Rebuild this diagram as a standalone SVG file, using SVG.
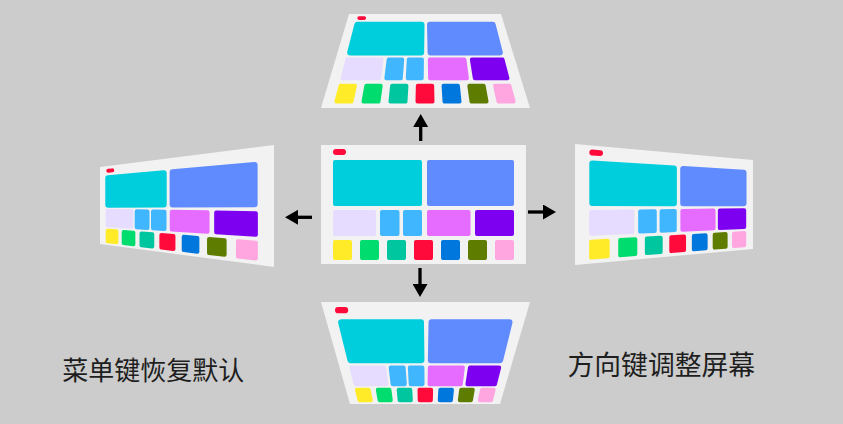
<svg xmlns="http://www.w3.org/2000/svg" width="843" height="424" viewBox="0 0 843 424">
<defs>
<style>
.bg{fill:#CCCCCC}
.pn{fill:#F2F2F2}
.s{stroke-width:4;stroke-linejoin:round}
.b{stroke-width:6;stroke-linejoin:round}
.pill{stroke:#FF0A3A;stroke-linecap:round;fill:none}
.cy{fill:#00CEDD;stroke:#00CEDD}
.bl{fill:#5F8BFF;stroke:#5F8BFF}
.lv{fill:#E6DCFF;stroke:#E6DCFF}
.sk{fill:#40B6FF;stroke:#40B6FF}
.mg{fill:#E56CFF;stroke:#E56CFF}
.pu{fill:#7E00F1;stroke:#7E00F1}
.ye{fill:#FFEB28;stroke:#FFEB28}
.gr{fill:#00DD6E;stroke:#00DD6E}
.te{fill:#00C6A0;stroke:#00C6A0}
.rd{fill:#FF0A3A;stroke:#FF0A3A}
.b2{fill:#0077DD;stroke:#0077DD}
.ol{fill:#5E7D00;stroke:#5E7D00}
.pk{fill:#FFA5E0;stroke:#FFA5E0}
.cr rect{stroke:none}
.arr{stroke:#000;stroke-width:3.3;fill:none;marker-end:url(#ah)}
.lbl{font-family:"Noto Sans CJK SC","Noto Sans",sans-serif;font-size:26px;fill:#1E1E1E;text-anchor:middle}
</style>
<marker id="ah" markerUnits="userSpaceOnUse" viewBox="0 0 13 15" markerWidth="13" markerHeight="15" refX="0" refY="7.5" orient="auto">
<path d="M0,0 L13,7.5 L0,15 Z" fill="#000"/>
</marker>
</defs>
<rect class="bg" x="0" y="0" width="843" height="424"/>

<g id="panel-center" class="cr">
<rect class="pn" x="321" y="145" width="205" height="119"/>
<rect class="rd" x="333" y="149" width="13" height="6" rx="3"/>
<rect class="cy" x="333" y="160" width="89" height="46" rx="2"/>
<rect class="bl" x="427" y="160" width="87" height="46" rx="2"/>
<rect class="lv" x="333" y="210" width="43" height="26" rx="2"/>
<rect class="sk" x="380" y="210" width="19.5" height="26" rx="2"/>
<rect class="sk" x="403" y="210" width="19" height="26" rx="2"/>
<rect class="mg" x="427" y="210" width="43.5" height="26" rx="2"/>
<rect class="pu" x="475" y="210" width="39" height="26" rx="2"/>
<rect class="ye" x="333" y="240" width="19" height="20" rx="2"/>
<rect class="gr" x="360" y="240" width="19" height="20" rx="2"/>
<rect class="te" x="387" y="240" width="19" height="20" rx="2"/>
<rect class="rd" x="414" y="240" width="19" height="20" rx="2"/>
<rect class="b2" x="441" y="240" width="19" height="20" rx="2"/>
<rect class="ol" x="468" y="240" width="19" height="20" rx="2"/>
<rect class="pk" x="495" y="240" width="19" height="20" rx="2"/>
</g>

<g id="panel-top">
<polygon class="pn" points="349,14 501,14 530,108 321,108"/>
<line class="pill" x1="359.1" y1="18.1" x2="364.3" y2="18.1" stroke-width="3.6"/>
<polygon class="cy b" points="357.33,24.79 421.52,24.79 421.15,52.43 350.18,52.43"/>
<polygon class="bl b" points="430.03,24.79 492.67,24.79 499.82,52.43 430.56,52.43"/>
<polygon class="lv s" points="347.48,59.48 381.64,59.48 378.90,78.23 342.57,78.23"/>
<polygon class="sk s" points="388.65,59.48 402.22,59.48 400.78,78.23 386.35,78.23"/>
<polygon class="sk s" points="408.80,59.48 421.93,59.48 421.74,78.23 407.77,78.23"/>
<polygon class="mg s" points="429.82,59.48 464.42,59.48 466.91,78.23 430.12,78.23"/>
<polygon class="pu s" points="471.86,59.48 502.52,59.48 507.43,78.23 474.83,78.23"/>
<polygon class="ye s" points="340.63,85.66 354.93,85.66 351.46,101.61 336.45,101.61"/>
<polygon class="gr s" points="366.37,85.66 380.67,85.66 378.47,101.61 363.47,101.61"/>
<polygon class="te s" points="392.11,85.66 406.41,85.66 405.49,101.61 390.48,101.61"/>
<polygon class="rd s" points="417.85,85.66 432.15,85.66 432.50,101.61 417.50,101.61"/>
<polygon class="b2 s" points="443.59,85.66 457.89,85.66 459.52,101.61 444.51,101.61"/>
<polygon class="ol s" points="469.33,85.66 483.63,85.66 486.53,101.61 471.53,101.61"/>
<polygon class="pk s" points="495.07,85.66 509.37,85.66 513.55,101.61 498.54,101.61"/>
</g>

<g id="panel-bottom">
<polygon class="pn" points="321,302 530,302 500,404 350,404"/>
<line class="pill" x1="338.11" y1="310.17" x2="345.09" y2="310.17" stroke-width="6.2"/>
<polygon class="cy b" points="341.10,322.29 420.97,322.29 421.45,360.13 350.44,360.13"/>
<polygon class="bl b" points="431.56,322.29 509.50,322.29 500.16,360.13 430.86,360.13"/>
<polygon class="lv s" points="351.43,367.51 383.98,367.51 386.30,384.14 355.58,384.14"/>
<polygon class="sk s" points="390.66,367.51 403.60,367.51 404.82,384.14 392.61,384.14"/>
<polygon class="sk s" points="409.86,367.51 422.38,367.51 422.54,384.14 410.73,384.14"/>
<polygon class="mg s" points="429.89,367.51 462.86,367.51 460.75,384.14 429.63,384.14"/>
<polygon class="pu s" points="469.96,367.51 499.17,367.51 495.02,384.14 467.45,384.14"/>
<polygon class="ye s" points="356.98,389.73 368.56,389.73 370.74,400.26 359.61,400.26"/>
<polygon class="gr s" points="377.82,389.73 389.40,389.73 390.78,400.26 379.65,400.26"/>
<polygon class="te s" points="398.67,389.73 410.25,389.73 410.83,400.26 399.69,400.26"/>
<polygon class="rd s" points="419.51,389.73 431.09,389.73 430.87,400.26 419.73,400.26"/>
<polygon class="b2 s" points="440.35,389.73 451.93,389.73 450.91,400.26 439.77,400.26"/>
<polygon class="ol s" points="461.20,389.73 472.78,389.73 470.95,400.26 459.82,400.26"/>
<polygon class="pk s" points="482.04,389.73 493.62,389.73 490.99,400.26 479.86,400.26"/>
</g>

<g id="panel-left">
<polygon class="pn" points="100,167 274,145 274,267 100,244"/>
<line class="pill" x1="108.26" y1="170.84" x2="112.27" y2="170.38" stroke-width="4"/>
<polygon class="cy b" points="108.26,178.15 163.72,173.15 163.72,204.57 108.26,204.75"/>
<polygon class="bl b" points="172.62,172.34 254.62,164.94 254.62,204.27 172.62,204.54"/>
<polygon class="lv s" points="107.69,210.73 131.38,211.12 131.38,226.85 107.69,225.33"/>
<polygon class="sk s" points="136.70,211.20 147.51,211.38 147.51,227.88 136.70,227.19"/>
<polygon class="sk s" points="153.00,211.47 164.51,211.66 164.51,228.98 153.00,228.24"/>
<polygon class="mg s" points="171.79,211.77 207.54,212.36 207.54,231.73 171.79,229.44"/>
<polygon class="pu s" points="216.16,212.50 255.87,213.15 255.87,234.84 216.16,232.29"/>
<polygon class="ye s" points="107.69,230.64 116.39,231.35 116.39,242.27 107.69,241.26"/>
<polygon class="gr s" points="123.71,231.95 133.35,232.73 133.35,244.25 123.71,243.12"/>
<polygon class="te s" points="141.50,233.40 152.26,234.28 152.26,246.45 141.50,245.20"/>
<polygon class="rd s" points="161.37,235.02 173.45,236.00 173.45,248.91 161.37,247.51"/>
<polygon class="b2 s" points="183.72,236.84 197.38,237.95 197.38,251.69 183.72,250.11"/>
<polygon class="ol s" points="209.03,238.90 224.61,240.17 224.61,254.86 209.03,253.05"/>
<polygon class="pk s" points="237.95,241.26 255.87,242.72 255.87,258.50 237.95,256.41"/>
</g>

<g id="panel-right">
<polygon class="pn" points="575,144 753,160 753,249 575,265"/>
<line class="pill" x1="592.29" y1="152.49" x2="600.05" y2="153.10" stroke-width="5.9"/>
<polygon class="cy b" points="592.29,163.38 673.89,168.49 673.89,203.20 592.29,203.01"/>
<polygon class="bl b" points="683.22,169.08 743.52,172.85 743.52,203.36 683.22,203.22"/>
<polygon class="lv s" points="591.16,211.94 632.35,211.48 632.35,231.94 591.16,233.78"/>
<polygon class="sk s" points="640.17,211.39 654.76,211.22 654.76,230.95 640.17,231.60"/>
<polygon class="sk s" points="661.58,211.15 674.75,211.00 674.75,230.06 661.58,230.64"/>
<polygon class="mg s" points="682.38,210.91 713.57,210.56 713.57,228.33 682.38,229.72"/>
<polygon class="pu s" points="719.84,210.49 744.19,210.21 744.19,226.97 719.84,228.05"/>
<polygon class="ye s" points="591.16,241.72 607.63,240.78 607.63,256.26 591.16,257.60"/>
<polygon class="gr s" points="620.23,240.07 635.30,239.22 635.30,254.03 620.23,255.25"/>
<polygon class="te s" points="646.85,238.57 660.68,237.78 660.68,251.98 646.85,253.10"/>
<polygon class="rd s" points="671.30,237.19 684.04,236.46 684.04,250.10 671.30,251.13"/>
<polygon class="b2 s" points="693.85,235.91 705.62,235.24 705.62,248.36 693.85,249.31"/>
<polygon class="ol s" points="714.69,234.73 725.61,234.11 725.61,246.75 714.69,247.63"/>
<polygon class="pk s" points="734.04,233.64 744.19,233.06 744.19,245.25 734.04,246.07"/>
</g>

<g id="connectors">
<line class="arr" x1="420.7" y1="141" x2="420.7" y2="127"/>
<line class="arr" x1="420" y1="268" x2="420" y2="284"/>
<line class="arr" x1="312" y1="217.3" x2="298" y2="217.3"/>
<line class="arr" x1="528" y1="212" x2="543" y2="212"/>
</g>

<g id="label-left">
<text class="lbl" x="153.3" y="380">菜单键恢复默认</text>
</g>
<g id="label-right">
<text class="lbl" x="661.3" y="375" style="font-size:26.8px">方向键调整屏幕</text>
</g>
</svg>
